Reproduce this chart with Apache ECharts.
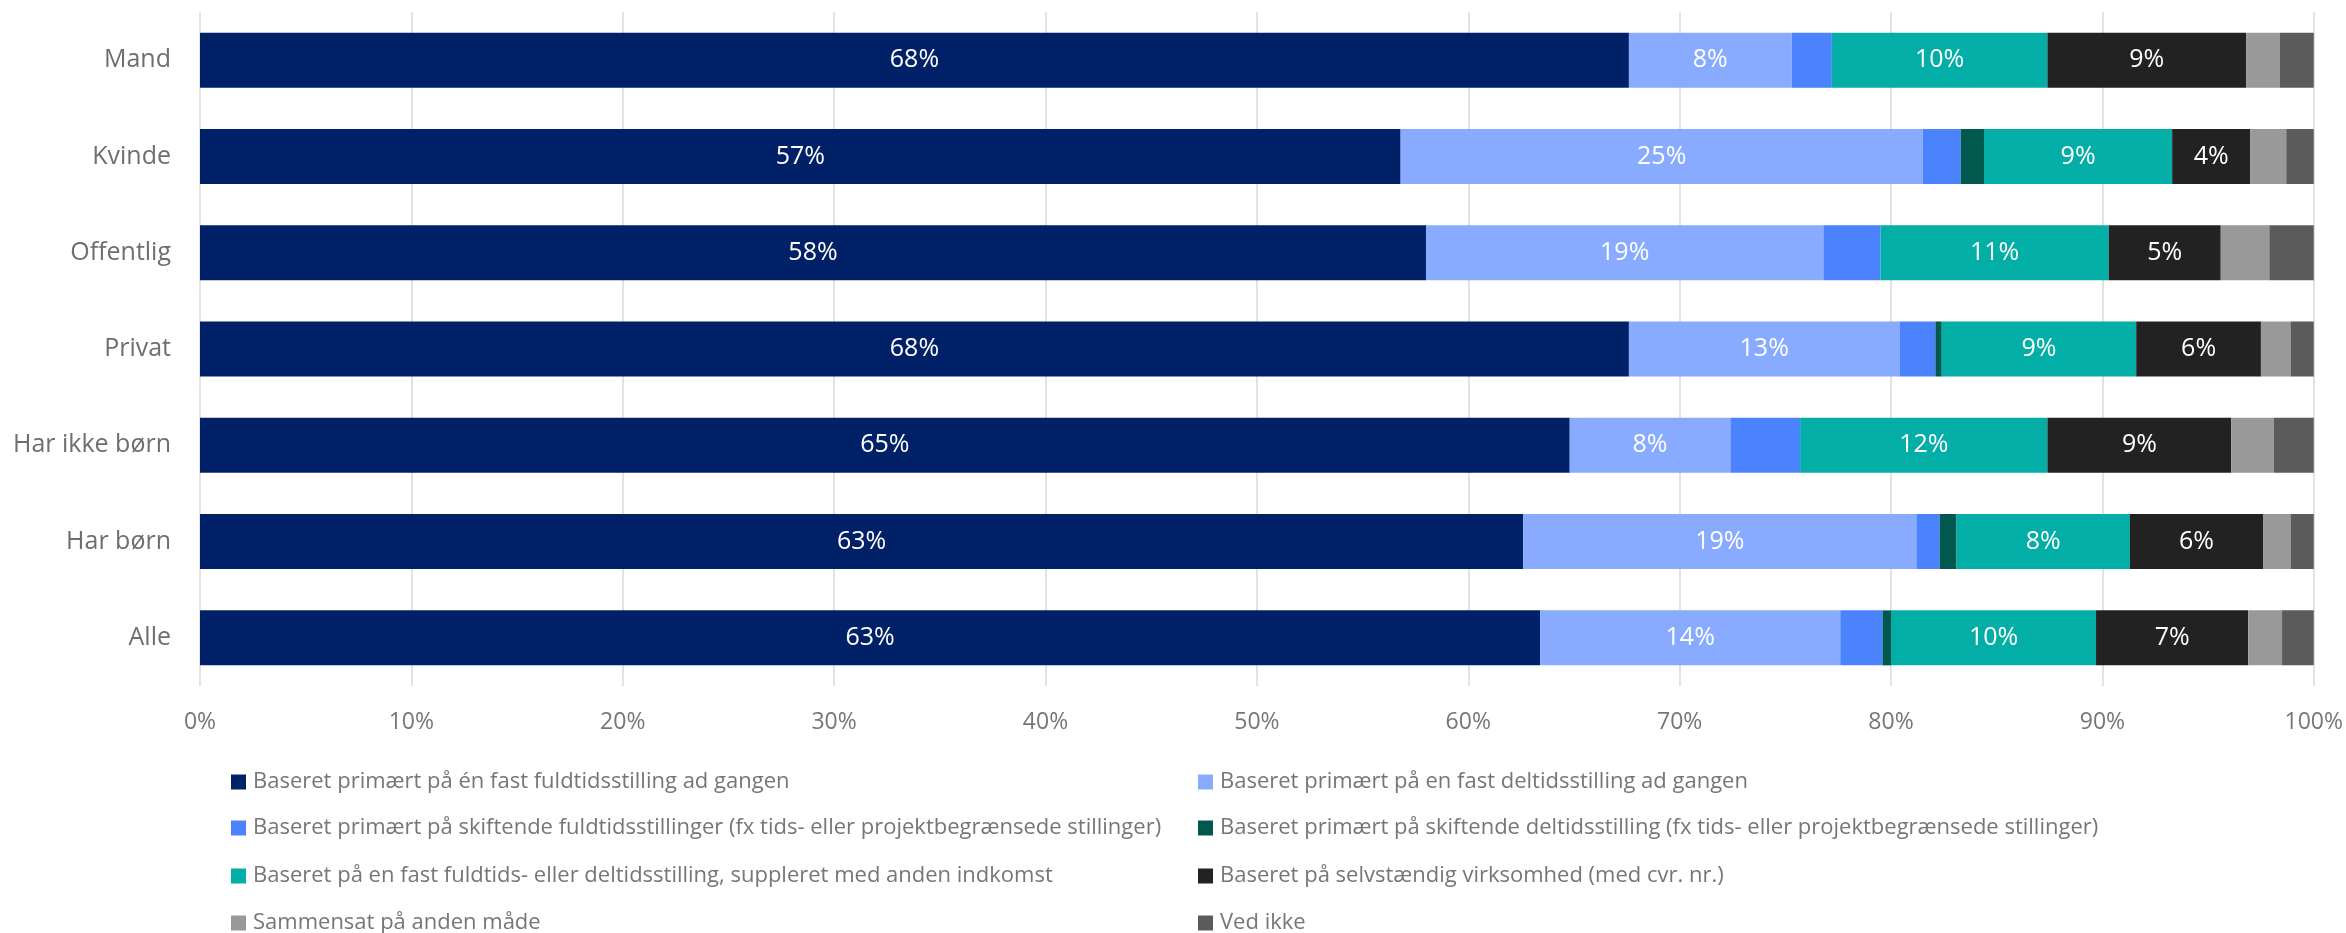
<!DOCTYPE html>
<html>
<head>
<meta charset="utf-8">
<script src="https://cdn.jsdelivr.net/npm/echarts@6/dist/echarts.min.js"></script>
<style>
  html, body { margin: 0; padding: 0; background: #ffffff; }
  #chart { width: 2346px; height: 933px; }
</style>
</head>
<body>
<div id="chart"></div>
<script>
// Groups, top to bottom
const categories = ['Mand', 'Kvinde', 'Offentlig', 'Privat', 'Har ikke børn', 'Har børn', 'Alle'];

// Shares in percent per group (same order as categories)
const fastFuldtid     = [67.6, 56.8, 58.0, 67.6, 64.8, 62.6, 63.4];
const fastDeltid      = [7.7, 24.7, 18.8, 12.8, 7.6, 18.6, 14.2];
const skiftFuldtid    = [1.9, 1.8, 2.7, 1.7, 3.3, 1.1, 2.0];
const skiftDeltid     = [0.0, 1.1, 0.0, 0.3, 0.0, 0.8, 0.4];
const fastSuppleret   = [10.2, 8.9, 10.8, 9.2, 11.7, 8.2, 9.7];
const selvstaendig    = [9.4, 3.7, 5.3, 5.9, 8.7, 6.3, 7.2];
const andenMaade      = [1.6, 1.7, 2.3, 1.4, 2.0, 1.3, 1.6];
const vedIkke         = [1.6, 1.3, 2.2, 1.1, 1.9, 1.2, 1.5];

const seriesNames = [
  'Baseret primært på én fast fuldtidsstilling ad gangen',
  'Baseret primært på en fast deltidsstilling ad gangen',
  'Baseret primært på skiftende fuldtidsstillinger (fx tids- eller projektbegrænsede stillinger)',
  'Baseret primært på skiftende deltidsstilling (fx tids- eller projektbegrænsede stillinger)',
  'Baseret på en fast fuldtids- eller deltidsstilling, suppleret med anden indkomst',
  'Baseret på selvstændig virksomhed (med cvr. nr.)',
  'Sammensat på anden måde',
  'Ved ikke'
];
const seriesValues = [fastFuldtid, fastDeltid, skiftFuldtid, skiftDeltid, fastSuppleret, selvstaendig, andenMaade, vedIkke];
const seriesColors = ['#002168', '#88ABFF', '#4B83FF', '#00584F', '#02AEA6', '#222222', '#999999', '#5B5B5B'];

const xTicks = { min: 0, max: 100, step: 10 };

const FONT = '"Open Sans", "Noto Sans", sans-serif';
const GREY = '#767676';

const series = seriesNames.map((name, i) => ({
  name: name,
  type: 'bar',
  stack: 'total',
  barWidth: 55,
  itemStyle: { color: seriesColors[i] },
  label: {
    show: true,
    position: 'inside',
    color: '#ffffff',
    fontFamily: FONT,
    fontSize: 25,
    formatter: p => (p.value >= 3.5 ? Math.round(p.value) + '%' : '')
  },
  emphasis: { disabled: true },
  data: seriesValues[i]
}));

// Legend in two columns, four rows; one legend block per entry
const legendCols = [226, 1193];
const legendRowTops = [765, 811, 859, 906];
const legends = seriesNames.map((name, i) => ({
  left: legendCols[i % 2],
  top: legendRowTops[Math.floor(i / 2)],
  icon: 'rect',
  itemWidth: 15,
  itemHeight: 15,
  selectedMode: false,
  textStyle: { color: GREY, fontFamily: FONT, fontSize: 22, lineHeight: 24, padding: [0, 0, 0, 2] },
  data: [name]
}));

const chart = echarts.init(document.getElementById('chart'), null, { renderer: 'canvas' });
chart.setOption({
  animation: false,
  backgroundColor: '#ffffff',
  grid: { left: 200, right: 32, top: 12, bottom: 247, containLabel: false },
  xAxis: {
    type: 'value',
    min: xTicks.min,
    max: xTicks.max,
    interval: xTicks.step,
    axisLine: { show: false },
    axisTick: { show: false },
    splitLine: { show: true, lineStyle: { color: '#d9d9d9', width: 1.5 } },
    axisLabel: {
      formatter: '{value}%',
      color: GREY,
      fontFamily: FONT,
      fontSize: 23,
      margin: 25
    }
  },
  yAxis: {
    type: 'category',
    inverse: true,
    data: categories,
    axisLine: { show: false },
    axisTick: { show: false },
    axisLabel: {
      color: '#6e6e6e',
      fontFamily: FONT,
      fontSize: 25,
      margin: 29
    }
  },
  legend: legends,
  series: series
});
</script>
</body>
</html>
